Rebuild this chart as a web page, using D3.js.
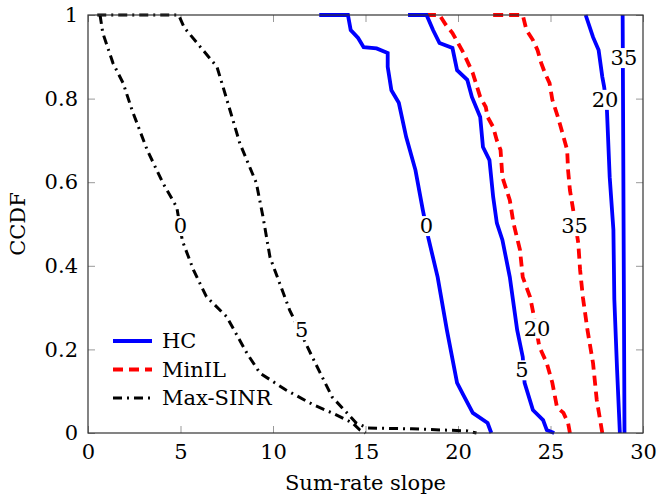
<!DOCTYPE html>
<html>
<head>
<meta charset="utf-8">
<script src="https://cdn.jsdelivr.net/npm/d3@7"></script>
<style>
    body { margin: 0; background: #fff; }
    text { font-family: "DejaVu Serif", "Liberation Serif", serif; }
</style>
</head>
<body>
<div id="chart"></div>
<script>

// ---- data ----
let xTicks = [0, 5, 10, 15, 20, 25, 30];
let yTicks = [0, 0.2, 0.4, 0.6, 0.8, 1];

let hc0 = [[12.5,1],[14.05,1],[14.2,0.964],[14.6,0.945],[14.9,0.923],[15.6,0.92],[16.2,0.909],[16.2,0.876],
    [16.4,0.82],[16.8,0.79],[17.2,0.708],[17.7,0.629],[18.1,0.533],[18.4,0.466],[18.9,0.373],[19.4,0.246],
    [19.95,0.12],[20.3,0.09],[20.8,0.048],[21.6,0.024],[21.8,0]];
let hc5 = [[17.3,1],[18.3,1],[18.65,0.964],[19.0,0.933],[19.7,0.921],[19.95,0.868],[20.5,0.845],[20.75,0.804],
    [21.2,0.756],[21.35,0.684],[21.7,0.653],[21.9,0.565],[22.1,0.502],[22.4,0.462],[22.8,0.373],[23.2,0.246],
    [23.5,0.182],[23.6,0.12],[24.05,0.055],[24.6,0.031],[24.8,0.007],[25.2,0]];
let hc20 = [[26.9,1],[27.3,0.947],[27.6,0.916],[27.8,0.852],[27.9,0.828],[28.05,0.773],[28.2,0.612],
    [28.4,0.486],[28.45,0.32],[28.6,0.15],[28.75,0]];
let hc35 = [[28.9,1],[28.95,0.5],[29.0,0]];

let minil20 = [[17.4,1],[19.0,1],[19.35,0.976],[19.7,0.957],[20.3,0.909],[20.8,0.861],[21.2,0.804],[21.5,0.78],
    [21.6,0.756],[21.9,0.732],[22.1,0.7],[22.3,0.677],[22.4,0.612],[22.8,0.557],[23.0,0.502],[23.35,0.438],
    [23.5,0.373],[23.9,0.325],[24.1,0.28],[24.4,0.206],[24.8,0.167],[25.1,0.12],[25.35,0.062],[25.7,0.048],
    [25.95,0.024],[26.05,0]];
let minil35 = [[21.9,1],[23.5,1],[23.7,0.964],[24.05,0.94],[24.3,0.916],[24.5,0.885],[24.7,0.861],[24.95,0.837],
    [25.1,0.797],[25.4,0.756],[25.6,0.725],[25.9,0.677],[25.95,0.629],[26.05,0.581],[26.2,0.541],[26.5,0.455],
    [26.6,0.39],[26.75,0.325],[27.0,0.246],[27.3,0.167],[27.5,0.079],[27.8,0]];

let maxsinr0 = [[0.65,1],[0.8,0.957],[1.35,0.885],[1.9,0.837],[2.4,0.77],[3.2,0.677],[4.05,0.598],[4.8,0.54],
    [5.1,0.46],[5.7,0.39],[6.4,0.326],[7.5,0.278],[8.6,0.19],[9.3,0.143],[10.7,0.103],[12.2,0.067],
    [13.2,0.048],[14.3,0.024],[14.7,0.007],[15.0,0]];
let maxsinr5 = [[0.5,1],[4.9,1],[5.2,0.97],[6.97,0.876],[7.3,0.828],[8.2,0.694],[9.1,0.598],[9.46,0.517],
    [9.84,0.42],[10.9,0.294],[12.2,0.175],[13.2,0.086],[14.5,0.024],[15.1,0.012],[17.5,0.01],[20.5,0.005],[21,0]];

// curve labels: [x, y, text]
let hcLabels = [[18.3,0.495,"0"],[23.45,0.15,"5"],[27.95,0.797,"20"],[28.97,0.897,"35"]];
let minilLabels = [[24.27,0.25,"20"],[26.3,0.495,"35"]];
let maxsinrLabels = [[5.0,0.495,"0"],[11.55,0.246,"5"]];

let legendNames = ["HC", "MinIL", "Max-SINR"];

// ---- drawing ----
let margin = {top: 15, right: 27, bottom: 62, left: 88};
let width = 670 - margin.left - margin.right;
let height = 495 - margin.top - margin.bottom;
let fontSize = "21px";

let svg = d3.select("#chart").append("svg")
    .attr("width", 670)
    .attr("height", 495)
    .append("g")
    .attr("transform", `translate(${margin.left},${margin.top})`);

let x = d3.scaleLinear().domain([0, 30]).range([0, width]);
let y = d3.scaleLinear().domain([0, 1]).range([height, 0]);

// ticks (inward, on all four sides)
function styleAxis(g) {
    g.select(".domain").remove();
    g.selectAll(".tick line").attr("stroke", "#999").attr("stroke-width", 1);
    g.selectAll(".tick text").attr("font-size", fontSize).attr("fill", "#000")
        .style("font-family", "'DejaVu Serif', serif");
}

svg.append("g")
    .attr("transform", `translate(0,${height})`)
    .call(d3.axisBottom(x).tickValues(xTicks).tickSize(-7).tickPadding(11).tickFormat(d3.format("d")))
    .call(styleAxis);
svg.append("g")
    .call(d3.axisTop(x).tickValues(xTicks).tickSize(-7).tickFormat(""))
    .call(styleAxis);
svg.append("g")
    .call(d3.axisLeft(y).tickValues(yTicks).tickSize(-7).tickPadding(10).tickFormat(d => d === 0 || d === 1 ? d3.format("d")(d) : d3.format(".1f")(d)))
    .call(styleAxis);
svg.append("g")
    .attr("transform", `translate(${width},0)`)
    .call(d3.axisRight(y).tickValues(yTicks).tickSize(-7).tickFormat(""))
    .call(styleAxis);

let line = d3.line()
    .x(d => x(d[0]))
    .y(d => y(d[1]));

let blue = "#0000ff", red = "#ff0000", black = "#000000";
let hcStyle = {color: blue, width: 3.8, dash: null};
let minilStyle = {color: red, width: 3.8, dash: "10,6"};
let maxsinrStyle = {color: black, width: 3, dash: "9,5,2,5"};

function drawCurve(data, st) {
    svg.append("path")
        .datum(data)
        .attr("fill", "none")
        .attr("stroke", st.color)
        .attr("stroke-width", st.width)
        .attr("stroke-dasharray", st.dash)
        .attr("stroke-linejoin", "miter")
        .attr("d", line);
}

[maxsinr0, maxsinr5].forEach(c => drawCurve(c, maxsinrStyle));
[minil20, minil35].forEach(c => drawCurve(c, minilStyle));
[hc0, hc5, hc20, hc35].forEach(c => drawCurve(c, hcStyle));

// frame
svg.append("rect")
    .attr("width", width)
    .attr("height", height)
    .attr("fill", "none")
    .attr("stroke", "#333")
    .attr("stroke-width", 1.2);

// labels sitting on the curves, white boxes behind
function drawLabels(labels) {
    labels.forEach(l => {
        let g = svg.append("g");
        let bg = g.append("rect").attr("fill", "#fff");
        let t = g.append("text")
            .attr("x", x(l[0]))
            .attr("y", y(l[1]))
            .attr("text-anchor", "middle")
            .attr("dominant-baseline", "central")
            .attr("font-size", fontSize)
            .text(l[2]);
        let bb = t.node().getBBox();
        bg.attr("x", bb.x - 1).attr("y", bb.y + 2)
            .attr("width", bb.width + 2).attr("height", bb.height - 4);
    });
}
drawLabels(maxsinrLabels);
drawLabels(minilLabels);
drawLabels(hcLabels);

// legend
let legendStyles = [hcStyle, minilStyle, maxsinrStyle];
let legend = svg.append("g").attr("transform", "translate(25,326)");
legendNames.forEach((name, i) => {
    let st = legendStyles[i];
    legend.append("line")
        .attr("x1", 0).attr("x2", 39)
        .attr("y1", i * 28.5).attr("y2", i * 28.5)
        .attr("stroke", st.color)
        .attr("stroke-width", st.width)
        .attr("stroke-dasharray", st.dash);
    legend.append("text")
        .attr("x", 49)
        .attr("y", i * 28.5)
        .attr("dominant-baseline", "central")
        .attr("font-size", fontSize)
        .text(name);
});

// axis titles
svg.append("text")
    .attr("x", width / 2)
    .attr("y", height + 57)
    .attr("text-anchor", "middle")
    .attr("font-size", fontSize)
    .text("Sum-rate slope");

svg.append("text")
    .attr("transform", `translate(-63,${height / 2}) rotate(-90)`)
    .attr("text-anchor", "middle")
    .attr("font-size", fontSize)
    .text("CCDF");

</script>
</body>
</html>
